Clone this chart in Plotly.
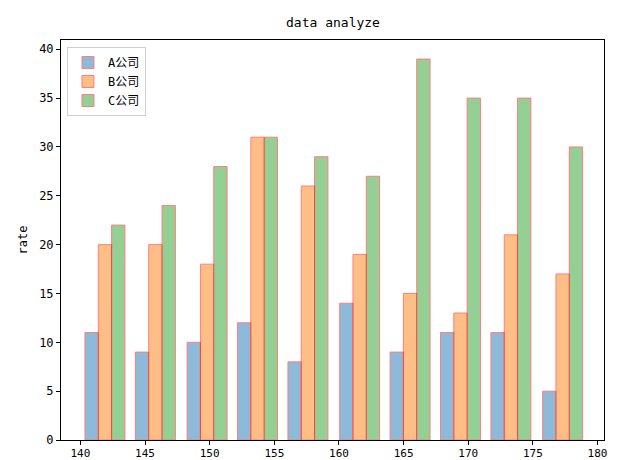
import plotly.graph_objects as go

positions = [141.9, 145.8, 149.8, 153.7, 157.6, 161.6, 165.5, 169.4, 173.3, 177.3]
company_a = [11, 9, 10, 12, 8, 14, 9, 11, 11, 5]
company_b = [20, 20, 18, 31, 26, 19, 15, 13, 21, 17]
company_c = [22, 24, 28, 31, 29, 27, 39, 35, 35, 30]
names = ["A公司", "B公司", "C公司"]
colors = ["#1f77b4", "#ff7f0e", "#2ca02c"]

font = "DejaVu Sans Mono, Noto Sans CJK SC, sans-serif"
bar_w = 1.03

fig = go.Figure()
for k, (name, vals, col) in enumerate(zip(names, [company_a, company_b, company_c], colors)):
    fig.add_trace(go.Bar(
        x=positions, y=vals, name=name,
        width=bar_w, offset=(k - 1.5) * bar_w,
        marker=dict(color=col, line=dict(color="red", width=1)),
        opacity=0.5,
    ))

# the page body adds 8px on the left and top, so the figure is 8px smaller
fig.update_layout(
    width=628, height=452,
    margin=dict(l=53, r=32, t=32, b=20, autoexpand=False),
    paper_bgcolor="white", plot_bgcolor="white",
    barmode="overlay",
    font=dict(family=font, size=12, color="black"),
    title=dict(text="data analyze", x=0.5175, xanchor="center",
               y=0.969, yanchor="middle", yref="container",
               font=dict(size=13), automargin=False),
    showlegend=True,
    legend=dict(x=0.011, y=0.9825, xanchor="left", yanchor="top",
                bordercolor="#d0d0d0", borderwidth=1, bgcolor="rgba(255,255,255,0.8)",
                font=dict(size=12), tracegroupgap=3),
)
fig.update_xaxes(range=[138.5, 180.5], tickmode="linear", tick0=140, dtick=5,
                 ticks="outside", ticklen=4, tickcolor="black", automargin=False,
                 tickfont=dict(size=11), ticklabelstandoff=-1,
                 showline=True, linecolor="black", linewidth=1, mirror=True,
                 showgrid=False, zeroline=False)
fig.update_yaxes(range=[0, 40.95], tickmode="linear", tick0=0, dtick=5,
                 ticks="outside", ticklen=4, tickcolor="black", automargin=False,
                 showline=True, linecolor="black", linewidth=1, mirror=True,
                 showgrid=False, zeroline=False,
                 title=dict(text="rate", standoff=8, font=dict(size=12)))

fig.write_html("out.html")
